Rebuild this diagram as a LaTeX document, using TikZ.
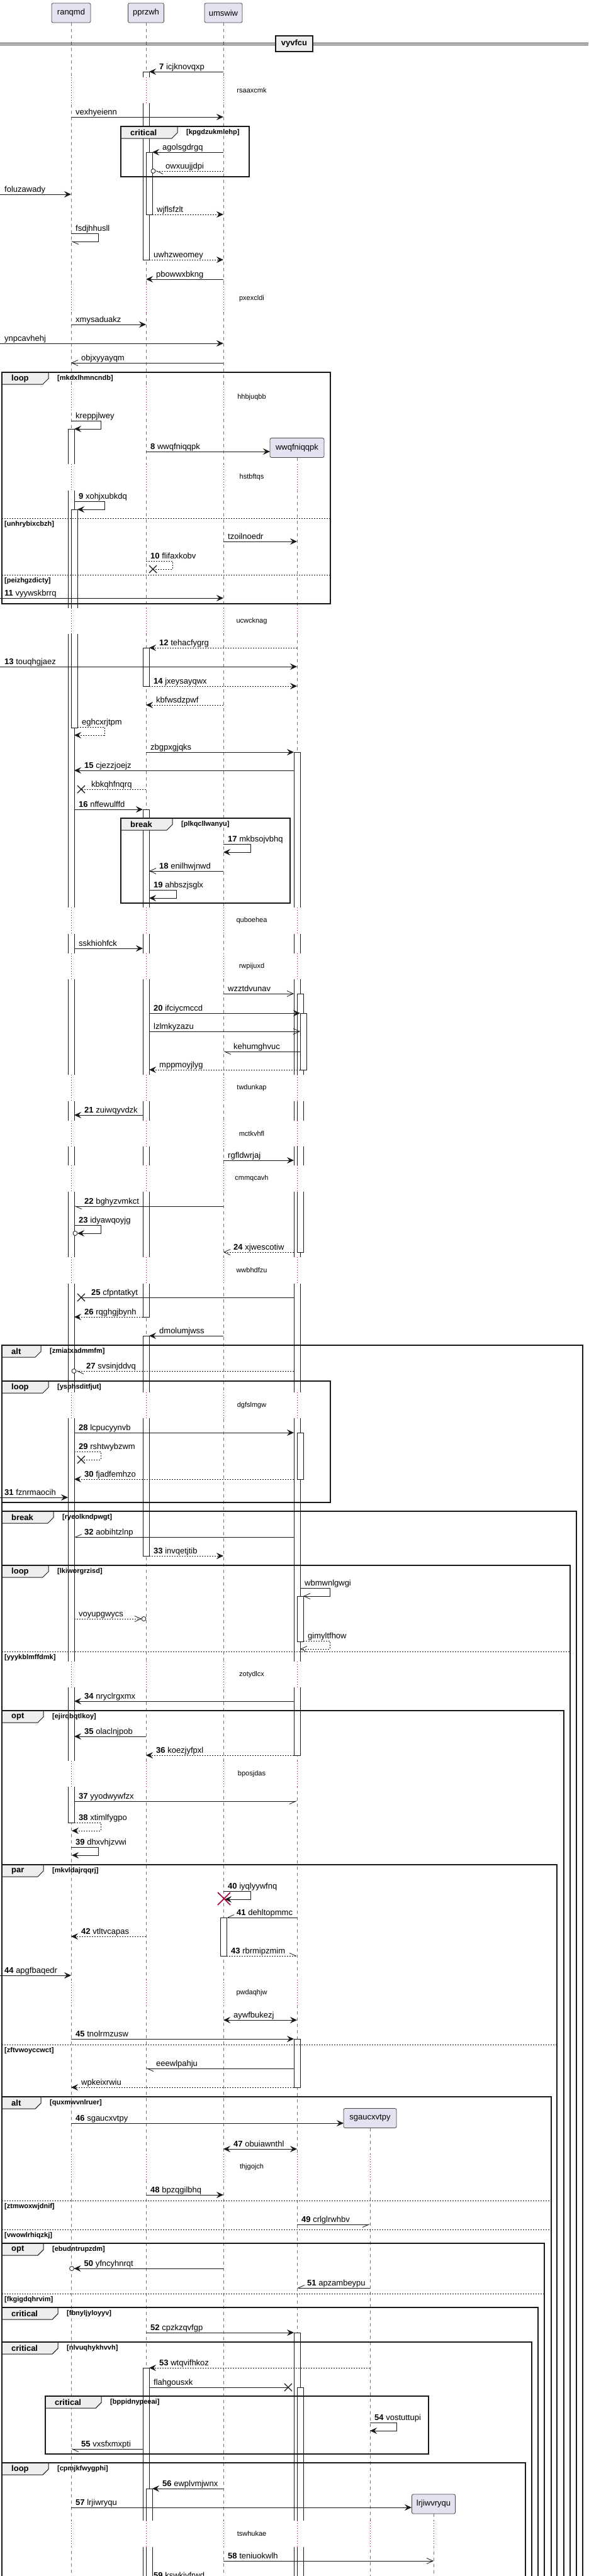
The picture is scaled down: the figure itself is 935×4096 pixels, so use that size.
\documentclass[tikz,border=0pt]{standalone}
\usepackage{fontspec}
\setmainfont{Liberation Sans}
\usetikzlibrary{arrows.meta}
\definecolor{partfill}{HTML}{E2E2F0}
\definecolor{delayred}{HTML}{A80036}
\definecolor{tabfill}{HTML}{EEEEEE}
\definecolor{inkline}{HTML}{181818}
\newcommand\seqbig{\fontsize{13}{15}\selectfont}
\newcommand\seqsmall{\fontsize{11}{13}\selectfont}
\tikzset{
  msg/.style={draw=inkline, line width=0.8pt},
  retn/.style={dash pattern=on 2pt off 2pt},
  fillhd/.style={msg, -{Stealth[length=11pt,width=10pt,inset=4pt]}},
  bothhd/.style={msg, {Stealth[length=11pt,width=10pt,inset=4pt]}-{Stealth[length=11pt,width=10pt,inset=4pt]}},
  openhd/.style={msg, -{Straight Barb[length=10pt,width=9pt]}},
  halfhd/.style={msg, -{Straight Barb[harpoon,length=10pt,width=9pt]}},
  halfhdsw/.style={msg, -{Straight Barb[harpoon,swap,length=10pt,width=9pt]}},
  lifeline/.style={draw=black!55, line width=0.6pt, dash pattern=on 5pt off 5pt},
  delayline/.style={draw=delayred, line width=0.8pt, dash pattern=on 1pt off 3pt},
  actbar/.style={draw=inkline, fill=white, line width=0.8pt},
  frameline/.style={draw=inkline, line width=1.5pt},
  tabbox/.style={draw=inkline, fill=tabfill, line width=1pt},
  elseline/.style={draw=inkline, line width=0.8pt, dash pattern=on 2pt off 2pt},
  msglabel/.style={anchor=base west, inner sep=0pt, font=\seqbig},
  tabtext/.style={anchor=west, inner sep=0pt, font=\seqbig\bfseries},
  condtext/.style={anchor=west, inner sep=0pt, font=\seqsmall\bfseries},
  delaytext/.style={inner sep=0pt, font=\seqsmall},
  partbox/.style={draw=inkline!80, fill=partfill, rounded corners=2.5pt, line width=0.8pt, minimum height=31pt, inner sep=0pt, font=\seqbig},
  crossline/.style={draw=inkline, line width=1.3pt},
  killx/.style={draw=delayred, line width=1.6pt},
  endcirc/.style={draw=inkline, fill=white, line width=0.8pt},
}
% message: name, from x, to x, y, style, label
\newcommand\seqmsg[6]{%
  \coordinate (#1s) at (#2,#4);
  \coordinate (#1e) at (#3,#4);
  \draw[#5] (#1s) -- (#1e);
  \pgfmathsetmacro\lblx{ifthenelse(#2<#3,#2+7,#3+16)}%
  \node[msglabel] (#1l) at (\lblx,#4-4) {#6};}
% self message: name, from x, right x, back x, y, style, label
\newcommand\seqself[7]{%
  \coordinate (#1s) at (#2,#5);
  \coordinate (#1e) at (#4,#5+13);
  \draw[#6] (#1s) -- (#3,#5) -- (#3,#5+13) -- (#1e);
  \node[msglabel] (#1l) at (#2+7,#5-4) {#7};}
\newcommand\seqlost[2]{\draw[crossline] (#1-6,#2-6) -- (#1+6,#2+6) (#1-6,#2+6) -- (#1+6,#2-6);}
\newcommand\seqring[2]{\draw[endcirc] (#1,#2) circle (3.5pt);}
% delay: y from, y to, right x, text
\newcommand\seqdelay[4]{%
  \fill[white] (100,#1) rectangle (#3,#2);
  \foreach \lx in \livex {\draw[delayline] (\lx,#1) -- (\lx,#2);}
  \node[delaytext] at (400,{(#1+#2)/2}) {#4};}
% group: name, x1, x2, top, bottom, tab width, kind, condition
\newcommand\seqgrp[8]{%
  \draw[tabbox] (#2,#4) -- (#2+#6,#4) -- (#2+#6,#4+10) -- (#2+#6-9,#4+19) -- (#2,#4+19) -- cycle;
  \draw[frameline] (#2,#4) rectangle (#3,#5);
  \node[tabtext] (#1k) at (#2+15,#4+10) {#7};
  \node[condtext] (#1c) at (#2+#6+14,#4+10) {#8};}
\newcommand\seqelse[5]{%
  \draw[elseline] (#2,#4) -- (#3,#4);
  \node[condtext] (#1) at (#2+4,#4+10) {#5};}

\begin{document}
\begin{tikzpicture}[x=1pt, y=-1pt]
\fill[white] (0,0) rectangle (935,4096);
\useasboundingbox (0,0) rectangle (935,4096);

% participants
\node[partbox, minimum width=62pt] (ranqmd) at (113,20.5) {ranqmd};
\node[partbox, minimum width=57pt] (pprzwh) at (232,20.5) {pprzwh};
\node[partbox, minimum width=60pt] (umswiw) at (355,20.5) {umswiw};
\node[partbox, minimum width=86pt] (wwqfniqqpk) at (472,712) {wwqfniqqpk};
\node[partbox, minimum width=84pt] (sgaucxvtpy) at (588,3368) {sgaucxvtpy};
\node[partbox, minimum width=69pt] (lrjiwvryqu) at (689,3981.5) {lrjiwvryqu};

\draw[lifeline] (ranqmd.south) -- (113,4200);
\draw[lifeline] (pprzwh.south) -- (232,4200);
\draw[lifeline] (umswiw.south) -- (355,4200);
\draw[lifeline] (wwqfniqqpk.south) -- (472,4200);
\draw[lifeline] (sgaucxvtpy.south) -- (588,4200);
\draw[lifeline] (lrjiwvryqu.south) -- (689,4200);

% divider
\draw[inkline, line width=1pt] (0,68.3) -- (935,68.3) (0,71.5) -- (935,71.5);
\node[draw=inkline, line width=1.5pt, fill=tabfill, minimum width=59pt, minimum height=25pt, inner sep=0pt, font=\seqbig\bfseries] (vyvfcu) at (467.5,69.5) {vyvfcu};

% activations
\draw[actbar] (227,114) rectangle (237,413);
\draw[actbar] (232,242) rectangle (242,341);
\draw[actbar] (227,1030) rectangle (237,1091);
\draw[actbar] (227,1287) rectangle (237,2094);
\draw[actbar] (227,2124) rectangle (237,2474);
\draw[actbar] (227,3765) rectangle (237,4200);
\draw[actbar] (232,3957) rectangle (242,4200);
\draw[actbar] (108,682) rectangle (118,2898);
\draw[actbar] (113,810) rectangle (123,1157);
\draw[actbar] (350,3049) rectangle (360,3110);
\draw[actbar] (467,1196) rectangle (477,2791);
\draw[actbar] (472,1580) rectangle (482,1991);
\draw[actbar] (477,1611) rectangle (487,1701);
\draw[actbar] (472,2278) rectangle (482,2352);
\draw[actbar] (472,2538) rectangle (482,2610);
\draw[actbar] (467,3242) rectangle (477,3319);
\draw[actbar] (467,3709) rectangle (477,4200);
\draw[actbar] (472,3796) rectangle (482,4200);

% delays
\def\livex{113,232,355}
\seqdelay{123}{164}{370}{rsaaxcmk}
\seqdelay{452}{497}{370}{pxexcldi}
\seqdelay{611}{652}{370}{hhbjuqbb}
\def\livex{113,232,355,472}
\seqdelay{738}{780}{495}{hstbftqs}
\seqdelay{967}{1008}{495}{ucwcknag}
\seqdelay{1443}{1485}{495}{quboehea}
\seqdelay{1516}{1557}{495}{rwpijuxd}
\seqdelay{1709}{1751}{495}{twdunkap}
\seqdelay{1782}{1823}{495}{mctkvhfl}
\seqdelay{1853}{1895}{495}{cmmqcavh}
\seqdelay{1999}{2041}{495}{wwbhdfzu}
\seqdelay{2214}{2255}{495}{dgfslmgw}
\seqdelay{2642}{2683}{495}{zotydlcx}
\seqdelay{2800}{2841}{495}{bposjdas}
\seqdelay{3148}{3190}{495}{pwdaqhjw}
\def\livex{113,232,355,472,588}
\seqdelay{3425}{3467}{600}{thjgojch}
\def\livex{113,232,355,472,588,689}
\seqdelay{4008}{4050}{700}{tswhukae}

% groups
\seqgrp{fa}{192}{396}{201}{281}{90}{critical}{[kpgdzukmlehp]}
\seqgrp{fb}{3}{525}{592}{960}{74}{loop}{[mkdxlhmncndb]}
\seqelse{fbe1}{3}{525}{824}{[unhrybixcbzh]}
\seqelse{fbe2}{3}{525}{914}{[peizhgzdicty]}
\seqgrp{fc}{192}{461}{1301}{1436}{82}{break}{[plkqcllwanyu]}
\seqgrp{fd}{3}{926}{2139}{4200}{62}{alt}{[zmiatxadmmfm]}
\seqgrp{fe}{3}{525}{2196}{2389}{74}{loop}{[ysphsditfjut]}
\seqgrp{ff}{3}{916}{2403}{4200}{82}{break}{[ryeolkndpwgt]}
\seqgrp{fg}{3}{906}{2489}{4200}{74}{loop}{[lkiworgrzisd]}
\seqelse{fge}{3}{906}{2626}{[yyykblmffdmk]}
\seqgrp{fh}{3}{896}{2720}{4200}{66}{opt}{[ejirqbqtlkoy]}
\seqgrp{fi}{3}{885}{2965}{4200}{66}{par}{[mkvldajrqqrj]}
\seqelse{fie}{3}{885}{3251}{[zftvwoyccwct]}
\seqgrp{fj}{3}{876}{3334}{4200}{62}{alt}{[quxmwvnlruer]}
\seqelse{fje1}{3}{876}{3499}{[ztmwoxwjdnif]}
\seqelse{fje2}{3}{876}{3545}{[vwowlrhiqzkj]}
\seqgrp{fk}{3}{865}{3567}{4200}{66}{opt}{[ebudntrupzdm]}
\seqelse{fke}{3}{865}{3647}{[fkgigdqhrvim]}
\seqgrp{fl}{3}{855}{3669}{4200}{89}{critical}{[fbnyljyloyyv]}
\seqgrp{fm}{3}{845}{3724}{4200}{89}{critical}{[nlvuqhykhvvh]}
\seqgrp{fn}{72}{681}{3810}{3902}{89}{critical}{[bppidnypeeai]}
\seqgrp{fo}{3}{835}{3916}{4200}{74}{loop}{[cpmjkfwygphi]}

% messages
\seqmsg{m7}{355}{237}{114}{fillhd}{\textbf{7} icjknovqxp}
\seqmsg{mvex}{113}{355}{186}{fillhd}{vexhyeienn}
\seqmsg{magol}{355}{242}{242}{fillhd}{agolsgdrgq}
\seqmsg{mowx}{355}{247}{272}{halfhd,retn}{owxuujjdpi}
\seqring{243.5}{272}
\seqmsg{mfol}{0}{113}{309}{fillhd}{foluzawady}
\seqmsg{mwjf}{242}{355}{341}{fillhd,retn}{wjflsfzlt}
\seqself{sfsd}{113}{156}{113}{371}{halfhd}{fsdjhhusll}
\seqmsg{muwh}{237}{355}{413}{fillhd,retn}{uwhzweomey}
\seqmsg{mpbo}{355}{232}{444}{fillhd}{pbowwxbkng}
\seqmsg{mxmy}{113}{232}{516}{fillhd}{xmysaduakz}
\seqmsg{mynp}{0}{355}{546}{fillhd}{ynpcavhehj}
\seqmsg{mobj}{355}{113}{577}{openhd}{objxyyayqm}
\seqself{skrep}{113}{160}{118}{669}{fillhd}{kreppjlwey}
\seqmsg{m8}{232}{429}{718}{fillhd}{\textbf{8} wwqfniqqpk}
\seqself{s9}{118}{166}{123}{797}{fillhd}{\textbf{9} xohjxubkdq}
\seqmsg{mtzo}{355}{472}{861}{fillhd}{tzoilnoedr}
\seqself{s10}{232}{274}{243}{892}{msg,retn}{\textbf{10} flifaxkobv}
\seqlost{243}{905}
\seqmsg{m11}{0}{355}{951}{fillhd}{\textbf{11} vyywskbrrq}
\seqmsg{m12}{472}{237}{1030}{fillhd,retn}{\textbf{12} tehacfygrg}
\seqmsg{m13}{0}{472}{1060}{fillhd}{\textbf{13} touqhgjaez}
\seqmsg{m14}{237}{472}{1091}{fillhd,retn}{\textbf{14} jxeysayqwx}
\seqmsg{mkbf}{355}{232}{1121}{fillhd,retn}{kbfwsdzpwf}
\seqself{segh}{123}{166}{118}{1156}{fillhd,retn}{eghcxrjtpm}
\seqmsg{mzbg}{232}{467}{1196}{fillhd}{zbgpxgjqks}
\seqmsg{m15}{467}{118}{1225}{fillhd}{\textbf{15} cjezzjoejz}
\seqmsg{mkbk}{232}{129}{1255}{msg,retn}{kbkqhfnqrq}
\seqlost{129}{1255}
\seqmsg{m16}{118}{227}{1287}{fillhd}{\textbf{16} nffewulffd}
\seqself{s17}{355}{398}{355}{1342}{fillhd}{\textbf{17} mkbsojvbhq}
\seqmsg{m18}{355}{237}{1385}{openhd}{\textbf{18} enilhwjnwd}
\seqself{s19}{237}{280}{237}{1415}{fillhd}{\textbf{19} ahbszjsglx}
\seqmsg{mssk}{118}{227}{1508}{fillhd}{sskhiohfck}
\seqmsg{mwzz}{355}{467}{1580}{openhd}{wzztdvunav}
\seqmsg{m20}{237}{477}{1611}{fillhd}{\textbf{20} ifciycmccd}
\seqmsg{mlzl}{237}{477}{1640}{openhd}{lzlmkyzazu}
\seqmsg{mkeh}{477}{355}{1672}{halfhd}{kehumghvuc}
\seqmsg{mmpp}{477}{237}{1701}{fillhd,retn}{mppmoyjlyg}
\seqmsg{m21}{227}{118}{1773}{fillhd}{\textbf{21} zuiwqyvdzk}
\seqmsg{mrgf}{355}{467}{1845}{fillhd}{rgfldwrjaj}
\seqmsg{m22}{355}{118}{1918}{halfhd}{\textbf{22} bghyzvmkct}
\seqself{s23}{118}{160}{123}{1948}{fillhd}{\textbf{23} idyawqoyjg}
\seqring{119.5}{1961}
\seqmsg{m24}{467}{355}{1991}{openhd,retn}{\textbf{24} xjwescotiw}
\seqmsg{m25}{467}{129}{2063}{msg}{\textbf{25} cfpntatkyt}
\seqlost{129}{2063}
\seqmsg{m26}{227}{118}{2094}{fillhd,retn}{\textbf{26} rqghgjbynh}
\seqmsg{mdmo}{355}{237}{2124}{fillhd}{dmolumjwss}
\seqmsg{m27}{467}{121}{2180}{halfhd,retn}{\textbf{27} svsinjddvq}
\seqring{117.5}{2180}
\seqmsg{m28}{118}{467}{2278}{fillhd}{\textbf{28} lcpucyynvb}
\seqself{s29}{118}{160}{129}{2308}{msg,retn}{\textbf{29} rshtwybzwm}
\seqlost{129}{2321}
\seqmsg{m30}{467}{118}{2352}{fillhd,retn}{\textbf{30} fjadfemhzo}
\seqmsg{m31}{0}{108}{2381}{fillhd}{\textbf{31} fznrmaocih}
\seqmsg{m32}{467}{118}{2444}{halfhdsw}{\textbf{32} aobihtzlnp}
\seqmsg{m33}{237}{355}{2474}{fillhd,retn}{\textbf{33} invqetjtib}
\seqself{swbm}{477}{524}{482}{2525}{openhd}{wbmwnlgwgi}
\seqmsg{mvoy}{118}{225}{2574}{openhd,retn}{voyupgwycs}
\seqring{228.5}{2574}
\seqself{sgim}{482}{524}{477}{2609}{openhd,retn}{gimyltfhow}
\seqmsg{m34}{467}{118}{2705}{fillhd}{\textbf{34} nryclrgxmx}
\seqmsg{m35}{232}{118}{2761}{fillhd}{\textbf{35} olaclnjpob}
\seqmsg{m36}{467}{232}{2791}{fillhd,retn}{\textbf{36} koezjyfpxl}
\seqmsg{m37}{118}{472}{2864}{halfhdsw}{\textbf{37} yyodwywfzx}
\seqself{s38}{118}{160}{114}{2898}{fillhd,retn}{\textbf{38} xtimlfygpo}
\seqself{s39}{113}{156}{114}{2937}{fillhd}{\textbf{39} dhxvhjzvwi}
\seqself{s40}{355}{398}{357}{3007}{fillhd}{\textbf{40} iyqlyywfnq}
\draw[killx] (346,3009) -- (366,3029) (346,3029) -- (366,3009);
\seqmsg{m41}{472}{360}{3049}{halfhdsw}{\textbf{41} dehltopmmc}
\seqmsg{m42}{232}{113}{3079}{fillhd,retn}{\textbf{42} vtltvcapas}
\seqmsg{m43}{360}{472}{3110}{halfhd,retn}{\textbf{43} rbrmipzmim}
\seqmsg{m44}{0}{113}{3141}{fillhd}{\textbf{44} apgfbaqedr}
\seqmsg{maywf}{472}{355}{3212}{bothhd}{aywfbukezj}
\seqmsg{m45}{113}{467}{3242}{fillhd}{\textbf{45} tnolrmzusw}
\seqmsg{meee}{467}{232}{3289}{halfhd}{eeewlpahju}
\seqmsg{mwpk}{467}{113}{3319}{fillhd,retn}{wpkeixrwiu}
\seqmsg{m46}{113}{546}{3376}{fillhd}{\textbf{46} sgaucxvtpy}
\seqmsg{m47}{472}{355}{3417}{bothhd}{\textbf{47} obuiawnthl}
\seqmsg{m48}{232}{355}{3490}{fillhd}{\textbf{48} bpzqgilbhq}
\seqmsg{m49}{472}{588}{3537}{halfhdsw}{\textbf{49} crlglrwhbv}
\seqmsg{m50}{355}{117.5}{3607}{fillhd}{\textbf{50} yfncyhnrqt}
\seqring{114}{3607}
\seqmsg{m51}{588}{472}{3638}{halfhdsw}{\textbf{51} apzambeypu}
\seqmsg{m52}{232}{467}{3709}{fillhd}{\textbf{52} cpzkzqvfgp}
\seqmsg{m53}{588}{237}{3765}{fillhd,retn}{\textbf{53} wtqvifhkoz}
\seqmsg{mfla}{237}{458}{3796}{msg}{flahgousxk}
\seqlost{458}{3796}
\seqself{s54}{588}{630}{588}{3852}{fillhd}{\textbf{54} vostuttupi}
\seqmsg{m55}{227}{113}{3894}{halfhd}{\textbf{55} vxsfxmxpti}
\seqmsg{m56}{355}{242}{3957}{fillhd}{\textbf{56} ewplvmjwnx}
\seqmsg{m57}{113}{654}{3987}{fillhd}{\textbf{57} lrjiwryqu}
\seqmsg{m58}{355}{689}{4072}{openhd}{\textbf{58} teniuokwlh}
\seqmsg{m59}{237}{355}{4103}{fillhd}{\textbf{59} kswkivfrwd}
\end{tikzpicture}
\end{document}
